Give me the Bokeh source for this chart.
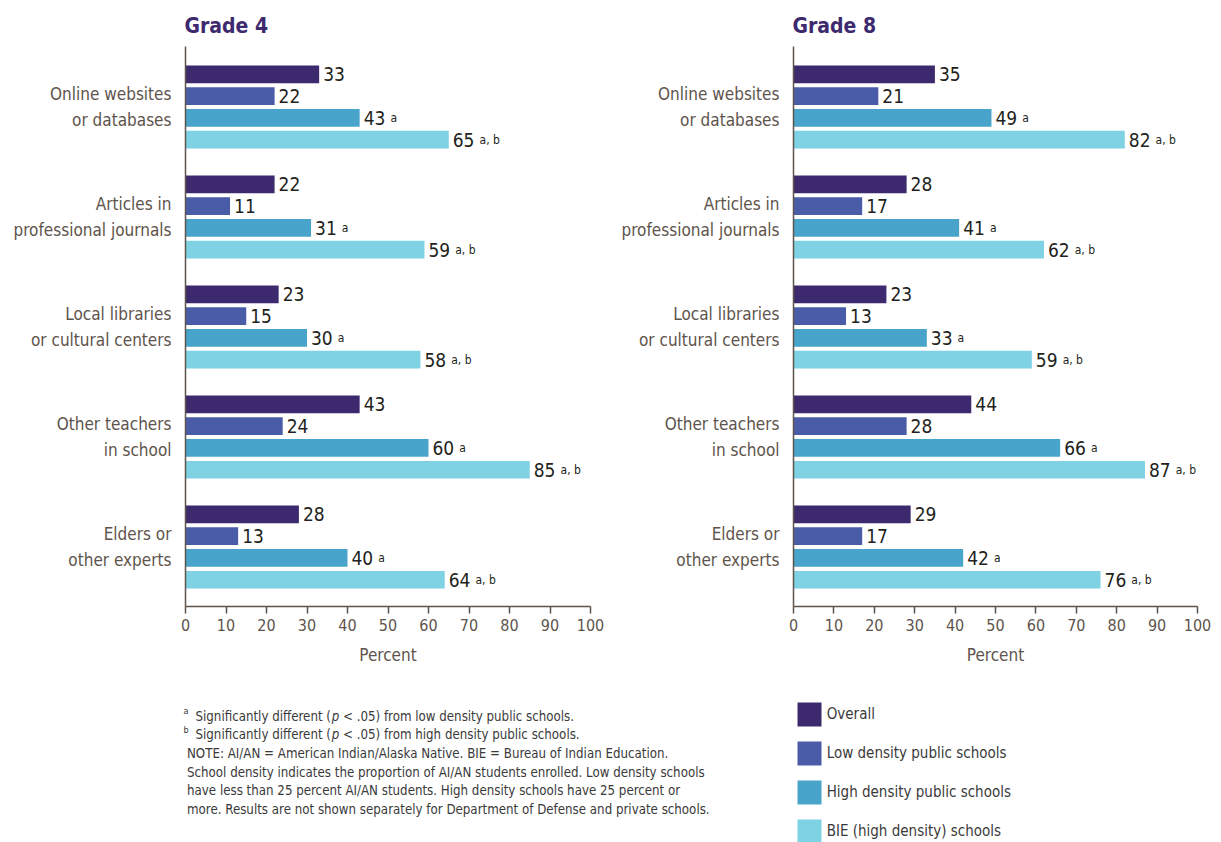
from bokeh.plotting import figure
from bokeh.models import Range1d, FixedTicker, Legend, LegendItem, ColumnDataSource
from bokeh.transform import dodge
from bokeh.layouts import column, row
from bokeh.embed import file_html
from bokeh.resources import INLINE
from bokeh.core.properties import value

# ---------------- data ----------------
categories = [
    "Online websites\nor databases",
    "Articles in\nprofessional journals",
    "Local libraries\nor cultural centers",
    "Other teachers\nin school",
    "Elders or\nother experts",
]
series = [
    "Overall",
    "Low density public schools",
    "High density public schools",
    "BIE (high density) schools",
]
grade4_overall = [33, 22, 23, 43, 28]
grade4_low = [22, 11, 15, 24, 13]
grade4_high = [43, 31, 30, 60, 40]
grade4_bie = [65, 59, 58, 85, 64]

grade8_overall = [35, 28, 23, 44, 29]
grade8_low = [21, 17, 13, 28, 17]
grade8_high = [49, 41, 33, 66, 42]
grade8_bie = [82, 62, 59, 87, 76]

series_marks = ["", "", "a", "a, b"]
x_ticks = [0, 10, 20, 30, 40, 50, 60, 70, 80, 90, 100]
x_label = "Percent"

footnotes = [
    ("a", ["Significantly different (", "p", "< .05) from low density public schools."]),
    ("b", ["Significantly different (", "p", "< .05) from high density public schools."]),
    ("", ["NOTE: AI/AN = American Indian/Alaska Native. BIE = Bureau of Indian Education."]),
    ("", ["School density indicates the proportion of AI/AN students enrolled. Low density schools"]),
    ("", ["have less than 25 percent AI/AN students. High density schools have 25 percent or"]),
    ("", ["more. Results are not shown separately for Department of Defense and private schools."]),
]

# ---------------- style ----------------
FONT = "DejaVu Sans Condensed"
COLORS = ["#3d2a6e", "#4a5ca8", "#48a4cb", "#7fd2e3"]
TITLE_COLOR = "#3d2a6e"
AXIS_COLOR = "#5e544c"
LABEL_COLOR = "#5e544c"
NUM_COLOR = "#231f20"
NOTE_COLOR = "#3a3a3a"
OFFSETS = [-0.297, -0.099, 0.099, 0.297]
BAR_H = 0.161
NUM_SIZE = 19
DIGIT_W = 0.573 * NUM_SIZE


def make_panel(title, values, left_border, frame_w, right_border):
    p = figure(
        width=left_border + frame_w + right_border,
        height=680,
        x_range=Range1d(0, 100),
        y_range=Range1d(4.54, -0.55),
        output_backend="svg",
        toolbar_location=None,
        min_border_left=left_border,
        min_border_right=right_border,
        min_border_top=46,
        min_border_bottom=74,
        title=title,
    )
    p.outline_line_color = None
    p.grid.visible = False
    p.background_fill_color = "white"
    p.border_fill_color = "white"

    p.title.text_font = FONT
    p.title.text_font_size = "21px"
    p.title.text_font_style = "bold"
    p.title.text_color = TITLE_COLOR
    p.title.align = "left"
    p.title.offset = -1
    p.title.standoff = 17

    ys = list(range(len(categories)))
    for k, vals in enumerate(values):
        labels = [str(v) for v in vals]
        src = ColumnDataSource(dict(
            y=ys,
            right=vals,
            label=labels,
            mark=[series_marks[k]] * len(vals),
            mark_off=[4 + DIGIT_W * len(s) + 5 for s in labels],
        ))
        yd = dodge("y", OFFSETS[k])
        p.hbar(y=yd, left=0, right="right", height=BAR_H, source=src,
               fill_color=COLORS[k], line_color=None)
        p.text(x="right", y=yd, text="label", source=src, x_offset=4,
               text_baseline="middle", text_align="left",
               text_font=value(FONT), text_font_size=f"{NUM_SIZE}px", text_color=NUM_COLOR)
        if series_marks[k]:
            p.text(x="right", y=yd, text="mark", source=src, x_offset="mark_off",
                   y_offset=0, text_baseline="alphabetic", text_align="left",
                   text_font=value(FONT), text_font_size="12px", text_color=NUM_COLOR)

    # y axis
    ya = p.yaxis[0]
    ya.ticker = FixedTicker(ticks=ys)
    ya.major_label_overrides = {i: c for i, c in enumerate(categories)}
    ya.major_tick_out = 0
    ya.major_tick_in = 0
    ya.minor_tick_out = 0
    ya.minor_tick_in = 0
    ya.major_label_standoff = 14
    ya.major_label_text_font = FONT
    ya.major_label_text_font_size = "17px"
    ya.major_label_text_color = LABEL_COLOR
    ya.major_label_text_line_height = 1.27
    ya.axis_line_color = AXIS_COLOR
    ya.axis_line_width = 1.5

    # x axis
    xa = p.xaxis[0]
    xa.ticker = FixedTicker(ticks=x_ticks)
    xa.major_tick_out = 7
    xa.major_tick_in = 0
    xa.minor_tick_out = 0
    xa.minor_tick_in = 0
    xa.major_tick_line_color = AXIS_COLOR
    xa.major_tick_line_width = 1.5
    xa.axis_line_color = AXIS_COLOR
    xa.axis_line_width = 1.5
    xa.major_label_standoff = 5
    xa.major_label_text_font = FONT
    xa.major_label_text_font_size = "16px"
    xa.major_label_text_color = LABEL_COLOR
    xa.axis_label = x_label
    xa.axis_label_text_font = FONT
    xa.axis_label_text_font_size = "17px"
    xa.axis_label_text_font_style = "normal"
    xa.axis_label_text_color = LABEL_COLOR
    xa.axis_label_standoff = 11
    return p


p1 = make_panel("Grade 4", [grade4_overall, grade4_low, grade4_high, grade4_bie], 185, 405, 18)
p2 = make_panel("Grade 8", [grade8_overall, grade8_low, grade8_high, grade8_bie], 185, 404, 24)

# ---------------- notes + legend ----------------
W3, H3 = 1221, 162
p3 = figure(width=W3, height=H3, x_range=Range1d(0, W3), y_range=Range1d(H3, 0),
            output_backend="svg", toolbar_location=None, min_border=0,
            x_axis_type=None, y_axis_type=None)
p3.outline_line_color = None
p3.grid.visible = False

NOTE_SIZE = 13.2
EM = 0.9 * NOTE_SIZE  # condensed scale
w_first = 11.459 * EM   # "Significantly different ("
w_p = 0.635 * EM
w_space = 0.318 * EM
base_y = 35.7
pitch = 18.6
for i, (sup, pieces) in enumerate(footnotes):
    yb = base_y + i * pitch
    if sup:
        p3.text(x=[183], y=[yb - 5], text=[sup], text_font=value(FONT), text_font_size="9px",
                text_color=NOTE_COLOR, text_baseline="alphabetic")
        x0 = 195
        xs = [x0, x0 + w_first, x0 + w_first + w_p + w_space]
    else:
        xs = [186.5]
    for j, piece in enumerate(pieces):
        p3.text(x=[xs[j]], y=[yb], text=[piece], text_font=value(FONT),
                text_font_size=f"{NOTE_SIZE}px",
                text_color=NOTE_COLOR, text_baseline="alphabetic",
                text_font_style="italic" if piece == "p" else "normal")

items = []
for k, name in enumerate(series):
    r = p3.hbar(y=[k], left=[0], right=[0], height=0, fill_color=COLORS[k], line_color=None)
    items.append(LegendItem(label=name, renderers=[r]))
legend = Legend(items=items, location=(793.7, -3.7), orientation="vertical",
                glyph_width=30, glyph_height=30, spacing=9, padding=0, margin=0,
                label_standoff=3, label_text_font=FONT, label_text_font_size="15px",
                label_text_color=NOTE_COLOR, border_line_color=None,
                background_fill_alpha=0)
p3.add_layout(legend)

layout = column(row(p1, p2), p3)
open("out.html", "w").write(file_html(layout, INLINE))
